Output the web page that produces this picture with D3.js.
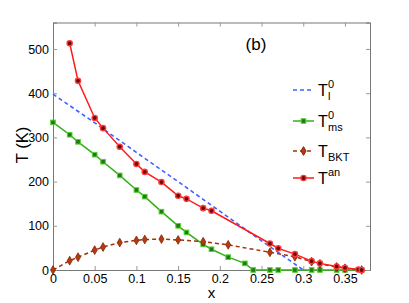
<!DOCTYPE html>
<head>
  <meta charset="utf-8">
  <script src="https://d3js.org/d3.v7.min.js"></script>
  <style>
    body { margin: 0; background: #fff; }
    text { font-family: 'Liberation Sans', Arial, sans-serif; fill: #000; }
    .tick text { font-size: 12.5px; }
  </style>
</head>
<body>
  <div id="chart"></div>
  <script>
    // data
    var xTl = [0, 0.05, 0.1, 0.15, 0.2, 0.25, 0.3];
    var yTl = [398, 333, 266, 200, 133, 66, 0];

    var xMs = [0, 0.02, 0.03, 0.05, 0.06, 0.08, 0.1, 0.11, 0.13, 0.15, 0.16, 0.18, 0.19, 0.21, 0.23, 0.24, 0.26, 0.27, 0.29, 0.31, 0.32, 0.34, 0.35, 0.37];
    var yMs = [334, 306, 290, 261, 245, 214, 181, 166, 132, 100, 85, 58, 47, 29, 15, 0, 0, 0, 0, 0, 0, 0, 0, 0];

    var xBkt = [0, 0.02, 0.03, 0.05, 0.06, 0.08, 0.1, 0.11, 0.13, 0.15, 0.18, 0.21, 0.26, 0.29, 0.31, 0.32, 0.34, 0.35, 0.37];
    var yBkt = [0, 21, 29, 45, 52, 62, 67, 69, 70, 68, 64, 57, 40, 30, 19, 14, 7, 4, 0];

    var xAn = [0.02, 0.03, 0.05, 0.06, 0.08, 0.1, 0.11, 0.13, 0.15, 0.16, 0.18, 0.19, 0.26, 0.27, 0.29, 0.31, 0.32, 0.34, 0.35, 0.366, 0.37];
    var yAn = [513, 428, 344, 321, 279, 240, 222, 199, 168, 161, 140, 134, 60, 49, 36, 20, 15, 8, 5, 1, 0];

    var xTicks = [0, 0.05, 0.1, 0.15, 0.2, 0.25, 0.3, 0.35];
    var yTicks = [0, 100, 200, 300, 400, 500];

    var W = 409, H = 303;
    var m = { left: 53, right: 39, top: 22.5, bottom: 33 };

    var svg = d3.select("#chart").append("svg")
      .attr("width", W).attr("height", H);

    var x = d3.scaleLinear().domain([0, 0.38]).range([m.left, W - m.right]);
    var y = d3.scaleLinear().domain([0, 560]).range([H - m.bottom, m.top]);

    function zip(xs, ys) { return xs.map(function (d, i) { return [d, ys[i]]; }); }

    // frame and axes (MATLAB style box, ticks inside)
    var gx = svg.append("g").attr("transform", "translate(0," + y(0) + ")")
      .call(d3.axisBottom(x).tickValues(xTicks).tickSize(-4).tickPadding(5)
        .tickFormat(function (d) { return d === 0 ? "0" : String(+d.toFixed(2)); }));
    var gxt = svg.append("g").attr("transform", "translate(0," + y(560) + ")")
      .call(d3.axisTop(x).tickValues(xTicks).tickSize(-4).tickFormat(""));
    var gy = svg.append("g").attr("transform", "translate(" + x(0) + ",0)")
      .call(d3.axisLeft(y).tickValues(yTicks).tickSize(-4).tickPadding(4));
    var gyr = svg.append("g").attr("transform", "translate(" + x(0.38) + ",0)")
      .call(d3.axisRight(y).tickValues(yTicks).tickSize(-4).tickFormat(""));
    [gx, gxt, gy, gyr].forEach(function (g) {
      g.selectAll("path.domain").attr("stroke", "#777");
      g.selectAll(".tick line").attr("stroke", "#999");
    });
    gx.selectAll(".tick text").attr("dy", "0.6em");

    var line = d3.line().x(function (d) { return x(d[0]); }).y(function (d) { return y(d[1]); });

    // T_l^0 blue dashed
    svg.append("path").datum(zip(xTl, yTl)).attr("d", line)
      .attr("fill", "none").attr("stroke", "#4060ff").attr("stroke-width", 1.6)
      .attr("stroke-dasharray", "4,3");

    // T_ms^0 green squares
    svg.append("path").datum(zip(xMs, yMs)).attr("d", line)
      .attr("fill", "none").attr("stroke", "#33b018").attr("stroke-width", 1.5);
    svg.append("g").selectAll("rect").data(zip(xMs, yMs)).join("rect")
      .attr("x", function (d) { return x(d[0]) - 2.3; })
      .attr("y", function (d) { return y(d[1]) - 2.3; })
      .attr("width", 4.6).attr("height", 4.6)
      .attr("fill", "#1f7a12").attr("stroke", "#55d230").attr("stroke-width", 1);

    // T_BKT brown dashed diamonds
    svg.append("path").datum(zip(xBkt, yBkt)).attr("d", line)
      .attr("fill", "none").attr("stroke", "#a3300b").attr("stroke-width", 1.5)
      .attr("stroke-dasharray", "4,3");
    svg.append("g").selectAll("path").data(zip(xBkt, yBkt)).join("path")
      .attr("d", d3.symbol(d3.symbolDiamond, 22))
      .attr("transform", function (d) { return "translate(" + x(d[0]) + "," + y(d[1]) + ")"; })
      .attr("fill", "#b23c12").attr("stroke", "#8a2200").attr("stroke-width", 0.8);

    // T^an red circles
    svg.append("path").datum(zip(xAn, yAn)).attr("d", line)
      .attr("fill", "none").attr("stroke", "#ff1a1a").attr("stroke-width", 1.5);
    svg.append("g").selectAll("circle").data(zip(xAn, yAn)).join("circle")
      .attr("cx", function (d) { return x(d[0]); })
      .attr("cy", function (d) { return y(d[1]); })
      .attr("r", 2.6).attr("fill", "#6a0a0a").attr("stroke", "#ff3a3a").attr("stroke-width", 1.4);

    // labels
    svg.append("text").attr("x", x(0.19)).attr("y", 298).attr("text-anchor", "middle")
      .style("font-size", "15px").text("x");
    svg.append("text").attr("transform", "translate(28,145) rotate(-90)")
      .attr("text-anchor", "middle").style("font-size", "16.5px").text("T (K)");
    svg.append("text").attr("x", 256).attr("y", 50).attr("text-anchor", "middle")
      .style("font-size", "17px").text("(b)");

    // legend
    var leg = [
      { main: "T", sup: "0", sub: "l", color: "#4060ff", dash: "4,3", mark: null, y: 90 },
      { main: "T", sup: "0", sub: "ms", color: "#33b018", dash: null, mark: "sq", y: 121 },
      { main: "T", sup: null, sub: "BKT", color: "#a3300b", dash: "4,3", mark: "dia", y: 151 },
      { main: "T", sup: "an", sub: null, color: "#ff1a1a", dash: null, mark: "circ", y: 178 }
    ];
    leg.forEach(function (l) {
      var g = svg.append("g");
      g.append("line").attr("x1", 293).attr("x2", 314).attr("y1", l.y).attr("y2", l.y)
        .attr("stroke", l.color).attr("stroke-width", 1.5)
        .attr("stroke-dasharray", l.dash);
      if (l.mark === "sq") g.append("rect").attr("x", 301.2).attr("y", l.y - 2.3).attr("width", 4.6).attr("height", 4.6)
        .attr("fill", "#1f7a12").attr("stroke", "#55d230");
      if (l.mark === "dia") g.append("path").attr("d", d3.symbol(d3.symbolDiamond, 22))
        .attr("transform", "translate(303.5," + l.y + ")").attr("fill", "#b23c12").attr("stroke", "#8a2200");
      if (l.mark === "circ") g.append("circle").attr("cx", 303.5).attr("cy", l.y).attr("r", 2.6)
        .attr("fill", "#6a0a0a").attr("stroke", "#ff3a3a").attr("stroke-width", 1.4);
      g.append("text").attr("x", 318).attr("y", l.y + 6).style("font-size", "16px").text(l.main);
      if (l.sup) g.append("text").attr("x", 328).attr("y", l.y - 2).style("font-size", "11px").text(l.sup);
      if (l.sub) g.append("text").attr("x", 328).attr("y", l.y + 10).style("font-size", "11px").text(l.sub);
    });
  </script>
</body>
</html>
